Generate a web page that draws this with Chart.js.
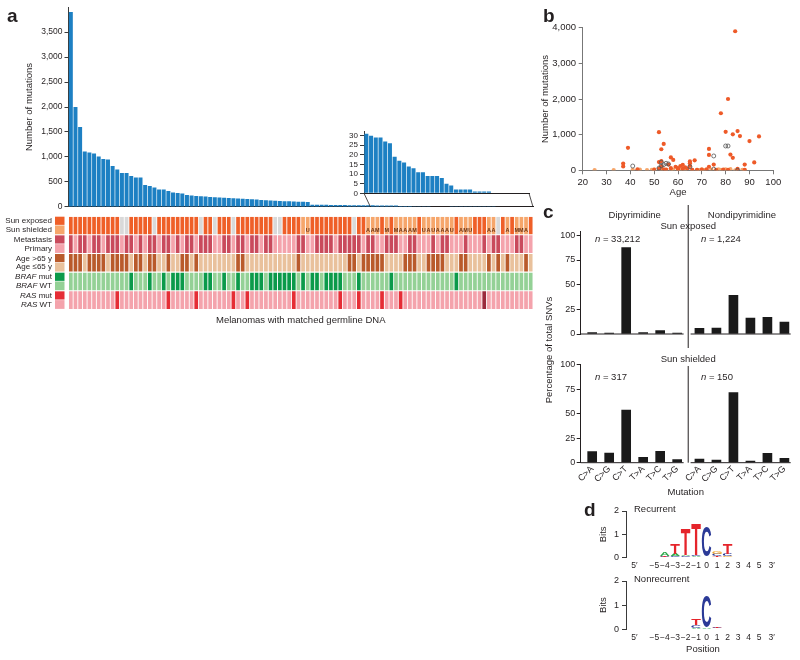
<!DOCTYPE html>
<html><head><meta charset="utf-8">
<script src="https://cdn.jsdelivr.net/npm/chart.js@4.4.0/dist/chart.umd.min.js"></script>
<style>
html,body{margin:0;padding:0;background:#fff;}
#wrap{position:relative;width:800px;height:660px;overflow:hidden;background:#fff;}
canvas{position:absolute;}
.pl{position:absolute;font-family:"Liberation Sans",Arial,sans-serif;font-weight:bold;font-size:19px;line-height:19px;color:#231f20;}
</style></head><body>
<div id="wrap">
<canvas id="cA" width="540" height="214" style="left:0;top:0"></canvas>
<canvas id="cI" width="215" height="91" style="left:320px;top:125px"></canvas>
<canvas id="cH" width="540" height="118" style="left:0;top:214px"></canvas>
<canvas id="cB" width="260" height="200" style="left:540px;top:0"></canvas>
<canvas id="cC1" width="260" height="300" style="left:540px;top:200px"></canvas>
<canvas id="cC2" width="260" height="155" style="left:540px;top:345px"></canvas>
<canvas id="cD1" width="260" height="75" style="left:540px;top:500px"></canvas>
<canvas id="cD2" width="260" height="90" style="left:540px;top:570px"></canvas>
<div class="pl" style="left:7px;top:6px">a</div>
<div class="pl" style="left:543px;top:6px">b</div>
<div class="pl" style="left:543px;top:202px">c</div>
<div class="pl" style="left:584px;top:500px">d</div>
</div>
<script>
// ================= DATA =================
// Panel a: mutations per melanoma (sorted)
const mutationCounts = [3900,2000,1600,1110,1090,1070,1010,960,950,820,750,680,680,620,590,590,440,420,390,350,350,320,290,280,270,240,230,
 220,215,210,200,195,190,185,180,175,170,165,160,155,150,140,135,130,125,120,115,112,110,105,102,100,
 45,44,42,41,40,38,37,36,35,34,33,32,32,
 31,30,29,29,27,26,19,17,16,14,13,11,11,9,9,9,8,5,4,2,2,2,2,1,1,1,1,0,0,0,0,0,0,0,0];
const sampleIds = mutationCounts.map((_, i) => 'M' + (i + 1));
const mainTicks = [0,500,1000,1500,2000,2500,3000,3500];
const insetStart = 65;
const insetTicks = [0,5,10,15,20,25,30];
// Clinical tracks (E exposed, S shielded, A acral, M mucosal, U unknown primary, N not available)
const sunStatus  = 'EEEEEEEEEEENNEEEEENEEEEEEEEENEENEEENEEEEEEEENNEEEESUEEEEEEEEENEEAAMEMEMAAAMEUAUAAAUEAMUEEEAANEAEMMAE'.split('');
const siteStatus = 'MPMMPMMPMMMPMMPMPMMPMMPMPMMPMMMPPMMPMMPMMPMMPPPPPMMPPMMMMPMMMMMPMMPPMMMPPMMPPPMPMMPPPMPPPMPMMPPPMMPP'.split('');
const ageStatus  = 'OOOYOOOOYOOOOYOOYOOYYOYYOOYOYYYYYYYYOOYYYYYYYYYYYOYYYYYYYYYYOOYOOOOOYYYYOOOYYOOOOYYYOOYYYYOYOYOYYYOY'.split('');
const brafStatus = 'WWWWWWWWWWWWWBWWWBWWBWBBBWWWWBBWWBWWBWWBBBWBBBBBBWBWBBWBBBBWWWBWWWWWWBWWWWWWWWWWWWWBWWWWWWWWWWWWWWWW'.split('');
const rasStatus  = 'WWWWWWWWWWRWWWWWWWWWWRWWWWWRWWWWWWWRWWRWWWWWWWWWRWWWWWWWWWRWWWRWWWWRWWWRWWWWWWWWWWWWWWWWWDWWWWWWWWW'.split('');

// Panel b: age vs number of mutations
const exposedAge = [84,81,78,52,80,85,83,86,94,90,54,39,73,53,82,73,83,57,58,67,52,53,37,37,65,92,88,75,62,61,59,73,53,54,57,64,43,60,62,55,50,68,70,72,76,79,81,85,88,63,65,56,60,52,66,65];
const exposedMut = [3900,2000,1600,1070,1080,1100,1010,960,950,820,740,630,600,590,440,430,350,360,290,280,230,260,190,110,200,220,160,160,150,120,100,100,110,30,60,50,30,20,40,20,10,15,20,30,10,20,15,40,10,80,120,160,60,50,10,250];
const shieldedAge = [25,33,41,44,47,49,50,53,55,57,58,60,61,63,66,68,69,70,71,74,76,77,78,80,82,84,87,88];
const shieldedMut = [5,8,15,20,3,10,25,30,12,6,18,22,9,14,2,11,7,26,4,19,1,27,13,29,31,2,16,9];
const unknownAge = [41,53,54,55,56,53,65,75,80,81,85,75,52];
const unknownMut = [120,224,160,196,178,130,100,402,682,682,0,30,60];
const ageTicks = [20,30,40,50,60,70,80,90,100];
const mutTicksB = [0,1000,2000,3000,4000];

// Panel c: % of total SNVs by mutation type
const mutationTypes = ['C>A','C>G','C>T','T>A','T>C','T>G'];
const exposedDipy    = [1.4,1.0,87.5,1.4,3.4,1.0];
const exposedNondipy = [5.7,6.1,39.2,16.2,16.9,12.2];
const shieldedDipy    = [11.3,9.9,53.9,5.5,11.6,3.1];
const shieldedNondipy = [3.8,2.7,71.7,1.7,9.6,4.4];
const exposedN  = [33212,1224];
const shieldedN = [317,150];
const pctTicks = [0,25,50,75,100];

// Panel d: sequence logos (bits)
const logoPositions = [-5,-4,-3,-2,-1,0,1,2,3,4,5];
const recurrentA = [0.01,0.14,0.09,0.06,0.04,0.01,0.03,0.02,0.02,0.005,0.005];
const recurrentC = [0.01,0.03,0.05,0.05,0.05,1.28,0.08,0.08,0.02,0.005,0.005];
const recurrentG = [0.01,0.02,0.03,0.02,0.03,0.01,0.10,0.04,0.02,0.005,0.005];
const recurrentT = [0.01,0.04,0.42,1.08,1.32,0.02,0.05,0.45,0.02,0.005,0.005];
const nonrecA = [0,0,0.01,0.02,0.04,0.03,0.02,0.01,0,0,0];
const nonrecC = [0,0,0.01,0.02,0.10,1.30,0.03,0.01,0,0,0];
const nonrecG = [0,0,0.01,0.01,0.03,0.02,0.02,0.01,0,0,0];
const nonrecT = [0,0,0.01,0.02,0.25,0.01,0.03,0.01,0,0,0];
const logoTickValues = [-6.9,-5,-4,-3,-2,-1,0,1,2,3,4,5,6.2];
const logoTickLabels = ['5\u2032','\u22125','\u22124','\u22123','\u22122','\u22121','0','1','2','3','4','5','3\u2032'];
const bitsTicks = [0,1,2];

// ================= STYLE =================
const FONT = '"Liberation Sans", Arial, Helvetica, sans-serif';
const TXT = '#231f20';
const AX = '#3a3a3a';
Chart.defaults.font.family = FONT;
Chart.defaults.color = TXT;
Chart.defaults.animation = false;
Chart.defaults.responsive = false;
Chart.defaults.plugins.legend.display = false;
Chart.defaults.plugins.tooltip.enabled = false;
const fmt = v => String(v).replace(/\B(?=(\d{3})+(?!\d))/g, ',');
const BLUE = '#1d80c3';

function richText(ctx, parts, x, y, align, size) {
  let total = 0;
  parts.forEach(p => { ctx.font = (p.i ? 'italic ' : '') + size + 'px ' + FONT; p.w = ctx.measureText(p.t).width; total += p.w; });
  let cx = align === 'right' ? x - total : align === 'center' ? x - total / 2 : x;
  ctx.textAlign = 'left';
  parts.forEach(p => { ctx.font = (p.i ? 'italic ' : '') + size + 'px ' + FONT; ctx.fillText(p.t, cx, y); cx += p.w; });
}

// ================= PANEL a: main bars =================
const mainChart = new Chart(document.getElementById('cA'), {
  type: 'bar',
  data: { labels: sampleIds, datasets: [{ data: mutationCounts, backgroundColor: BLUE, barPercentage: 0.86, categoryPercentage: 1 }] },
  options: {
    layout: { padding: { left: 20, right: 7, top: 3.7, bottom: 0 } },
    scales: {
      x: { grid: { display: false, drawTicks: false }, ticks: { display: false }, border: { display: true, color: TXT, width: 1 }, afterFit: s => { s.height = 0; } },
      y: { min: 0, max: 4000, afterBuildTicks: s => { s.ticks = mainTicks.map(v => ({ value: v })); },
           ticks: { autoSkip: false, font: { size: 8.5 }, padding: 2, callback: v => fmt(v) },
           grid: { drawOnChartArea: false, drawTicks: true, tickLength: 4, color: AX },
           border: { display: true, color: AX },
           title: { display: true, text: 'Number of mutations', font: { size: 9.5 }, padding: { top: 4, bottom: 0 } },
           afterFit: s => { s.width = 48.5; } }
    }
  }
});

// ================= PANEL a: inset =================
const connectorPlugin = {
  id: 'connector',
  afterDraw(chart) {
    const { ctx, chartArea: ca } = chart;
    const mx = mainChart.scales.x;
    const half = mx.width / mutationCounts.length / 2;
    const offX = chart.canvas.offsetLeft - mainChart.canvas.offsetLeft;
    const offY = chart.canvas.offsetTop - mainChart.canvas.offsetTop;
    const xl = mx.getPixelForValue(insetStart) - half - offX;
    const xr = mx.getPixelForValue(mutationCounts.length - 1) + half - offX;
    const yb = mainChart.chartArea.bottom - offY;
    ctx.save();
    ctx.strokeStyle = TXT; ctx.lineWidth = 0.8;
    ctx.beginPath();
    ctx.moveTo(ca.left, ca.bottom); ctx.lineTo(xl, yb);
    ctx.moveTo(ca.right, ca.bottom); ctx.lineTo(xr, yb);
    ctx.stroke();
    ctx.restore();
  }
};
new Chart(document.getElementById('cI'), {
  type: 'bar',
  data: { labels: sampleIds.slice(insetStart), datasets: [{ data: mutationCounts.slice(insetStart), backgroundColor: BLUE, barPercentage: 0.86, categoryPercentage: 1 }] },
  options: {
    layout: { padding: { left: 0, right: 6, top: 5.4, bottom: 22.7 } },
    scales: {
      x: { grid: { display: false, drawTicks: false }, ticks: { display: false }, border: { display: true, color: TXT }, afterFit: s => { s.height = 0; } },
      y: { min: 0, max: 32, afterBuildTicks: s => { s.ticks = insetTicks.map(v => ({ value: v })); },
           ticks: { autoSkip: false, font: { size: 8 }, padding: 2 },
           grid: { drawOnChartArea: false, drawTicks: true, tickLength: 4, color: AX },
           border: { display: true, color: AX },
           afterFit: s => { s.width = 44; } }
    }
  },
  plugins: [connectorPlugin]
});

// ================= PANEL a: clinical heatmap =================
const heatRows = [
  { values: sunStatus, colors: { E: '#ef5f28', S: '#f6a66b', A: '#f6a66b', M: '#f6a66b', U: '#f6a66b', N: '#d9d9d9' },
    legend: [{ code: 'E', parts: [{ t: 'Sun exposed' }] }, { code: 'S', parts: [{ t: 'Sun shielded' }] }] },
  { values: siteStatus, colors: { M: '#c94a5c', P: '#f4a3ac' },
    legend: [{ code: 'M', parts: [{ t: 'Metastasis' }] }, { code: 'P', parts: [{ t: 'Primary' }] }] },
  { values: ageStatus, colors: { O: '#b95a2b', Y: '#e9c19c' },
    legend: [{ code: 'O', parts: [{ t: 'Age >65 y' }] }, { code: 'Y', parts: [{ t: 'Age \u226465 y' }] }] },
  { values: brafStatus, colors: { B: '#0b9a4a', W: '#94d196' },
    legend: [{ code: 'B', parts: [{ t: 'BRAF', i: true }, { t: ' mut' }] }, { code: 'W', parts: [{ t: 'BRAF', i: true }, { t: ' WT' }] }] },
  { values: rasStatus, colors: { R: '#e52d35', W: '#f4a3ac', D: '#9b2a3c' },
    legend: [{ code: 'R', parts: [{ t: 'RAS', i: true }, { t: ' mut' }] }, { code: 'W', parts: [{ t: 'RAS', i: true }, { t: ' WT' }] }] }
];
const BAND = 0.94;
const heatPlugin = {
  id: 'heatLabels',
  afterDraw(chart) {
    const { ctx, scales: { x, y }, chartArea: ca } = chart;
    ctx.save();
    ctx.textBaseline = 'middle';
    ctx.fillStyle = TXT;
    heatRows.forEach((row, r) => {
      row.legend.forEach((item, k) => {
        const y0 = y.getPixelForValue(r + k * BAND / 2);
        const y1 = y.getPixelForValue(r + (k + 1) * BAND / 2);
        ctx.fillStyle = row.colors[item.code];
        ctx.fillRect(ca.left - 13.5, y0, 9.5, y1 - y0 - (k === 0 ? 0.6 : 0));
        ctx.fillStyle = TXT;
        richText(ctx, item.parts, ca.left - 16.5, (y0 + y1) / 2, 'right', 8);
      });
    });
    // primary-site codes in the sun track
    ctx.font = 'bold 5.5px ' + FONT;
    ctx.textAlign = 'center';
    ctx.textBaseline = 'bottom';
    ctx.fillStyle = '#6b3212';
    sunStatus.forEach((c, i) => {
      if (c === 'A' || c === 'M' || c === 'U') ctx.fillText(c, x.getPixelForValue(i), y.getPixelForValue(BAND) - 0.8);
    });
    ctx.restore();
  }
};
new Chart(document.getElementById('cH'), {
  type: 'bar',
  data: {
    labels: sampleIds,
    datasets: heatRows.map((row, r) => ({
      data: sampleIds.map(() => [r, r + BAND]),
      backgroundColor: row.values.map(v => row.colors[v]),
      barPercentage: 0.8, categoryPercentage: 1, grouped: false
    }))
  },
  options: {
    layout: { padding: { left: 68.5, right: 7, top: 2.7, bottom: 0 } },
    scales: {
      x: { grid: { display: false, drawTicks: false }, ticks: { display: false }, border: { display: false },
           title: { display: true, text: 'Melanomas with matched germline DNA', font: { size: 9.5 }, padding: { top: 0, bottom: 5.5 } },
           afterFit: s => { s.height = 22; } },
      y: { display: false, min: 0, max: 5, reverse: true }
    }
  },
  plugins: [heatPlugin]
});

// ================= PANEL b: scatter =================
const toPts = (xs, ys) => xs.map((v, i) => ({ x: v, y: ys[i] }));
new Chart(document.getElementById('cB'), {
  type: 'scatter',
  data: { datasets: [
    { data: toPts(unknownAge, unknownMut), backgroundColor: 'rgba(255,255,255,0)', borderColor: '#555', borderWidth: 0.8, pointRadius: 2 },
    { data: toPts(exposedAge, exposedMut), backgroundColor: '#ee5a28', borderWidth: 0, pointRadius: 2.1 },
    { data: toPts(shieldedAge, shieldedMut), backgroundColor: '#f6a66b', borderWidth: 0, pointRadius: 2.1 }
  ] },
  options: {
    layout: { padding: { left: 0, right: 26.7, top: 27.7, bottom: 0 } },
    scales: {
      x: { type: 'linear', min: 20, max: 100, afterBuildTicks: s => { s.ticks = ageTicks.map(v => ({ value: v })); },
           ticks: { autoSkip: false, font: { size: 9.5 }, padding: 2 },
           grid: { drawOnChartArea: false, drawTicks: true, tickLength: 4, color: '#777' },
           border: { display: true, color: '#777' },
           title: { display: true, text: 'Age', font: { size: 9.5 }, padding: { top: 0, bottom: 1.6 } },
           afterFit: s => { s.height = 29.7; } },
      y: { min: 0, max: 4000, afterBuildTicks: s => { s.ticks = mutTicksB.map(v => ({ value: v })); },
           ticks: { autoSkip: false, font: { size: 9.5 }, padding: 2.7, callback: v => fmt(v) },
           grid: { drawOnChartArea: false, drawTicks: true, tickLength: 4, color: '#777' },
           border: { display: true, color: '#777' },
           title: { display: true, text: 'Number of mutations', font: { size: 9.5 }, padding: { top: 0, bottom: 0 } },
           afterFit: s => { s.width = 42.7; } }
    }
  }
});

// ================= PANEL c =================
const GROUP_SHIFT = 6.31;
const SEP = 5.65, LEFT_END = 5.38, RIGHT_START = 5.79;
const slotX = (g, k) => k + g * GROUP_SHIFT;
const cData = (dipy, nondipy) => [
  ...dipy.map((v, k) => ({ x: slotX(0, k), y: v })),
  ...nondipy.map((v, k) => ({ x: slotX(1, k), y: v }))
];
const cTickValues = [0, 1].flatMap(g => mutationTypes.map((_, k) => slotX(g, k)));
const cTickLabels = [0, 1].flatMap(() => mutationTypes);
function cPlugin(cfg) {
  return {
    id: 'cdeco',
    afterDraw(chart) {
      const { ctx, scales: { x, y }, chartArea: ca } = chart;
      const xs = x.getPixelForValue(SEP);
      const y0 = y.getPixelForValue(0);
      ctx.save();
      ctx.strokeStyle = TXT; ctx.lineWidth = 1;
      ctx.beginPath();
      ctx.moveTo(xs, cfg.sepTop); ctx.lineTo(xs, cfg.sepBottom === 'base' ? y0 : cfg.sepBottom);
      ctx.moveTo(ca.left, y0); ctx.lineTo(x.getPixelForValue(LEFT_END), y0);
      ctx.moveTo(x.getPixelForValue(RIGHT_START), y0); ctx.lineTo(ca.right, y0);
      ctx.stroke();
      ctx.fillStyle = TXT;
      ctx.textBaseline = 'middle';
      if (cfg.groupTitles) {
        richText(ctx, [{ t: 'Dipyrimidine' }], x.getPixelForValue(2.5), cfg.groupY, 'center', 9.5);
        richText(ctx, [{ t: 'Nondipyrimidine' }], x.getPixelForValue(GROUP_SHIFT + 2.5), cfg.groupY, 'center', 9.5);
      }
      richText(ctx, [{ t: cfg.subtitle }], xs, cfg.subY, 'center', 9.5);
      richText(ctx, [{ t: 'n', i: true }, { t: ' = ' + fmt(cfg.n[0]) }], x.getPixelForValue(0.165), cfg.nY, 'left', 9.5);
      richText(ctx, [{ t: 'n', i: true }, { t: ' = ' + fmt(cfg.n[1]) }], x.getPixelForValue(GROUP_SHIFT + 0.09), cfg.nY, 'left', 9.5);
      if (cfg.yTitle) {
        ctx.translate(cfg.yTitle.x, cfg.yTitle.y);
        ctx.rotate(-Math.PI / 2);
        richText(ctx, [{ t: cfg.yTitle.text }], 0, 0, 'center', 9.5);
      }
      ctx.restore();
    }
  };
}
const cX = { type: 'linear', min: -0.676, max: 11.68, offset: false };
const cY = (max) => ({ min: 0, max: max, afterBuildTicks: s => { s.ticks = pctTicks.map(v => ({ value: v })); },
  ticks: { autoSkip: false, font: { size: 9 }, padding: 1.5 },
  grid: { drawOnChartArea: false, drawTicks: true, tickLength: 4, color: TXT },
  border: { display: true, color: TXT },
  afterFit: s => { s.width = 40.7; } });
new Chart(document.getElementById('cC1'), {
  type: 'bar',
  data: { datasets: [{ data: cData(exposedDipy, exposedNondipy), backgroundColor: '#1a1a1a', barThickness: 9 }] },
  options: {
    layout: { padding: { left: 0, right: 9.3, top: 31.4, bottom: 166 } },
    scales: { x: Object.assign({ display: false }, cX), y: cY(104) }
  },
  plugins: [cPlugin({ sepTop: 5, sepBottom: 148, groupTitles: true, groupY: 15, subtitle: 'Sun exposed', subY: 26, n: exposedN, nY: 39,
                      yTitle: { text: 'Percentage of total SNVs', x: 9, y: 150 } })]
});
new Chart(document.getElementById('cC2'), {
  type: 'bar',
  data: { datasets: [{ data: cData(shieldedDipy, shieldedNondipy), backgroundColor: '#1a1a1a', barThickness: 9 }] },
  options: {
    layout: { padding: { left: 0, right: 9.3, top: 19, bottom: 0 } },
    scales: {
      x: Object.assign({
        afterBuildTicks: s => { s.ticks = cTickValues.map(v => ({ value: v })); },
        ticks: { autoSkip: false, minRotation: 45, maxRotation: 45, font: { size: 9 }, padding: 1, callback: (v, i) => cTickLabels[i] },
        grid: { display: false, drawTicks: false }, border: { display: false },
        title: { display: true, text: 'Mutation', font: { size: 9.5 }, padding: { top: 0, bottom: 2.3 } },
        afterFit: s => { s.height = 37.3; }
      }, cX),
      y: cY(101)
    }
  },
  plugins: [cPlugin({ sepTop: 21, sepBottom: 'base', groupTitles: false, subtitle: 'Sun shielded', subY: 14, n: shieldedN, nY: 32 })]
});

// ================= PANEL d: sequence logos =================
const BASE_COLORS = { A: '#2aa84a', C: '#2b3a97', G: '#f2a62b', T: '#e5242b' };
function buildLogo(freqs) {
  const bases = ['A', 'C', 'G', 'T'];
  const ranges = { A: [], C: [], G: [], T: [] };
  logoPositions.forEach((p, i) => {
    const order = bases.slice().sort((a, b) => freqs[a][i] - freqs[b][i]);
    let acc = 0;
    order.forEach(b => { ranges[b].push({ x: p, y: [acc, acc + freqs[b][i]] }); acc += freqs[b][i]; });
  });
  return bases.map(b => ({ label: b, data: ranges[b], backgroundColor: 'rgba(0,0,0,0)', borderWidth: 0, barThickness: 9.5, grouped: false }));
}
function drawGlyph(ctx, ch, color, left, top, w, h) {
  if (h < 0.25 || w <= 0) return;
  ctx.save();
  ctx.font = 'bold 100px ' + FONT;
  ctx.textAlign = 'left'; ctx.textBaseline = 'alphabetic';
  const m = ctx.measureText(ch);
  const gw = m.actualBoundingBoxLeft + m.actualBoundingBoxRight;
  const gh = m.actualBoundingBoxAscent + m.actualBoundingBoxDescent;
  ctx.translate(left, top);
  ctx.scale(w / gw, h / gh);
  ctx.fillStyle = color;
  ctx.fillText(ch, m.actualBoundingBoxLeft, m.actualBoundingBoxAscent);
  ctx.restore();
}
function logoPlugin(title) {
  return {
    id: 'logo',
    afterDatasetsDraw(chart) {
      const { ctx } = chart;
      chart.data.datasets.forEach((ds, di) => {
        chart.getDatasetMeta(di).data.forEach(el => {
          const p = el.getProps(['x', 'y', 'base', 'width'], true);
          const top = Math.min(p.y, p.base), h = Math.abs(p.base - p.y);
          drawGlyph(ctx, ds.label, BASE_COLORS[ds.label], p.x - p.width / 2, top, p.width, h);
        });
      });
      ctx.save();
      ctx.fillStyle = TXT; ctx.textBaseline = 'middle';
      richText(ctx, [{ t: title }], chart.chartArea.left + 8, 9, 'left', 9.5);
      ctx.restore();
    }
  };
}
function logoOptions(xHeight, xTitle) {
  return {
    layout: { padding: { left: 57.3, right: 20, top: 11, bottom: 0 } },
    scales: {
      x: { type: 'linear', min: -7.7, max: 7, offset: false,
           afterBuildTicks: s => { s.ticks = logoTickValues.map(v => ({ value: v })); },
           ticks: { autoSkip: false, maxRotation: 0, font: { size: 8.5 }, padding: 3, callback: (v, i) => logoTickLabels[i] },
           grid: { display: false, drawTicks: false }, border: { display: false },
           title: xTitle ? { display: true, text: xTitle, font: { size: 9.5 }, padding: { top: 0, bottom: 5.3 } } : { display: false },
           afterFit: s => { s.height = xHeight; } },
      y: { min: 0, max: 2, afterBuildTicks: s => { s.ticks = bitsTicks.map(v => ({ value: v })); },
           ticks: { autoSkip: false, font: { size: 9 }, padding: 3 },
           grid: { drawOnChartArea: false, drawTicks: true, tickLength: 4, color: AX },
           border: { display: true, color: AX },
           title: { display: true, text: 'Bits', font: { size: 9.5 }, padding: { top: 0, bottom: 0 } },
           afterFit: s => { s.width = 28.7; } }
    }
  };
}
new Chart(document.getElementById('cD1'), {
  type: 'bar',
  data: { datasets: buildLogo({ A: recurrentA, C: recurrentC, G: recurrentG, T: recurrentT }) },
  options: logoOptions(17.3, null),
  plugins: [logoPlugin('Recurrent')]
});
new Chart(document.getElementById('cD2'), {
  type: 'bar',
  data: { datasets: buildLogo({ A: nonrecA, C: nonrecC, G: nonrecG, T: nonrecT }) },
  options: logoOptions(30.7, 'Position'),
  plugins: [logoPlugin('Nonrecurrent')]
});
</script>
</body></html>
